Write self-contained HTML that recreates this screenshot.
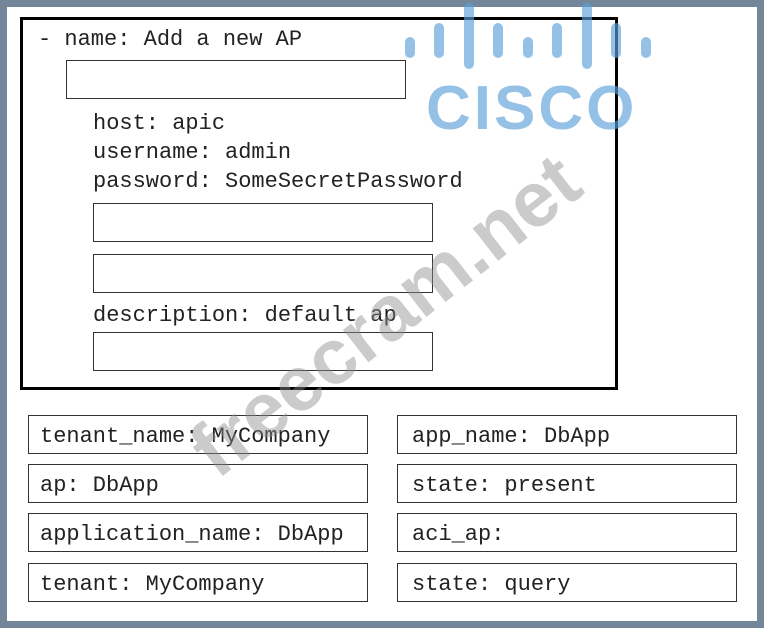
<!DOCTYPE html>
<html><head><style>
body{margin:0;width:764px;height:628px;background:#748699;position:relative;overflow:hidden;font-family:"Liberation Mono",monospace;}
.w{position:absolute;left:7px;top:7px;width:750px;height:614px;background:#fff;}
.main{position:absolute;left:20px;top:17px;width:592px;height:367px;border:3px solid #000;}
.b{position:absolute;border:1.5px solid #333;box-sizing:border-box;background:transparent;}
.t{position:absolute;font-size:22px;color:#222;white-space:pre;line-height:1;}
.bar{position:absolute;width:10px;border-radius:5px;background:rgba(90,160,215,0.65);}
</style></head><body>
<div class="w"></div>
<div class="main"></div>
<div class="t" style="left:38px;top:29px">- name: Add a new AP</div>
<div class="b" style="left:66px;top:60px;width:340px;height:39px"></div>
<div class="t" style="left:93px;top:113px">host: apic</div>
<div class="t" style="left:93px;top:142px">username: admin</div>
<div class="t" style="left:93px;top:171px">password: SomeSecretPassword</div>
<div class="b" style="left:93px;top:203px;width:340px;height:39px"></div>
<div class="b" style="left:93px;top:254px;width:340px;height:39px"></div>
<div class="t" style="left:93px;top:305px">description: default ap</div>
<div class="b" style="left:93px;top:332px;width:340px;height:39px"></div>

<div class="b" style="left:28px;top:415px;width:340px;height:39px"></div>
<div class="b" style="left:28px;top:464px;width:340px;height:39px"></div>
<div class="b" style="left:28px;top:513px;width:340px;height:39px"></div>
<div class="b" style="left:28px;top:563px;width:340px;height:39px"></div>
<div class="b" style="left:397px;top:415px;width:340px;height:39px"></div>
<div class="b" style="left:397px;top:464px;width:340px;height:39px"></div>
<div class="b" style="left:397px;top:513px;width:340px;height:39px"></div>
<div class="b" style="left:397px;top:563px;width:340px;height:39px"></div>
<div class="t" style="left:40px;top:426px">tenant_name: MyCompany</div>
<div class="t" style="left:40px;top:475px">ap: DbApp</div>
<div class="t" style="left:40px;top:524px">application_name: DbApp</div>
<div class="t" style="left:40px;top:574px">tenant: MyCompany</div>
<div class="t" style="left:412px;top:426px">app_name: DbApp</div>
<div class="t" style="left:412px;top:475px">state: present</div>
<div class="t" style="left:412px;top:524px">aci_ap:</div>
<div class="t" style="left:412px;top:574px">state: query</div>

<div class="bar" style="left:405px;top:37px;height:21px"></div>
<div class="bar" style="left:434px;top:23px;height:35px"></div>
<div class="bar" style="left:464px;top:3px;height:66px"></div>
<div class="bar" style="left:493px;top:23px;height:35px"></div>
<div class="bar" style="left:523px;top:37px;height:21px"></div>
<div class="bar" style="left:552px;top:23px;height:35px"></div>
<div class="bar" style="left:582px;top:3px;height:66px"></div>
<div class="bar" style="left:611px;top:23px;height:35px"></div>
<div class="bar" style="left:641px;top:37px;height:21px"></div>
<div style="position:absolute;left:426px;top:78px;font-family:'Liberation Sans',sans-serif;font-weight:bold;font-size:62px;letter-spacing:3px;color:rgba(90,160,215,0.65);line-height:1">CISCO</div>

<div style="position:absolute;left:385px;top:315px;transform:translate(-50%,-50%) rotate(-38deg);font-family:'Liberation Sans',sans-serif;font-weight:bold;font-size:78px;color:rgba(140,140,140,0.45);white-space:nowrap;line-height:1">freecram.net</div>
</body></html>
